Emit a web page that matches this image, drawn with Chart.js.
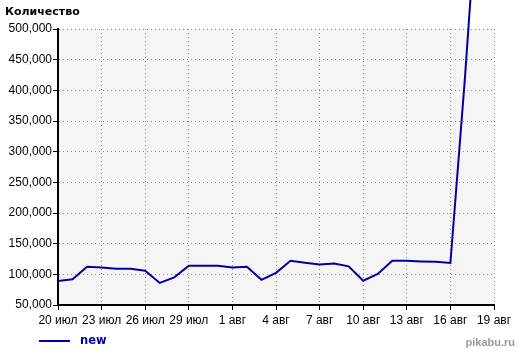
<!DOCTYPE html>
<html>
<head>
<meta charset="utf-8">
<script src="https://cdn.jsdelivr.net/npm/chart.js@4/dist/chart.umd.min.js"></script>
<style>
  body { margin: 0; background: #fff; }
  #wrap { position: relative; width: 520px; height: 353px; }
  #titulo { position: absolute; left: 5px; top: 5px; font: bold 11px "DejaVu Sans", sans-serif; line-height: 14px; color: #000; }
  #legenda { position: absolute; left: 39px; top: 333px; height: 14px; }
  #legenda .amostra { position: absolute; left: 0; top: 7px; width: 31px; height: 2px; background: #0000a0; }
  #legenda .nome { position: absolute; left: 41px; top: 0; font: bold 11.5px "DejaVu Sans", sans-serif; line-height: 14px; color: #0000a0; }
  #marca { position: absolute; right: 5px; top: 335px; font: bold 11px "Liberation Sans", sans-serif; line-height: 14px; color: #9a9a9a; }
</style>
</head>
<body>
<div id="wrap">
  <canvas id="grafico" width="520" height="353"></canvas>
  <div id="titulo">Количество</div>
  <div id="legenda"><span class="amostra"></span><span class="nome">new</span></div>
  <div id="marca">pikabu.ru</div>
</div>
<script>
// dias do eixo X (20 июл .. 19 авг)
const dias = [
  '20 июл','21 июл','22 июл','23 июл','24 июл','25 июл','26 июл','27 июл','28 июл','29 июл','30 июл','31 июл',
  '1 авг','2 авг','3 авг','4 авг','5 авг','6 авг','7 авг','8 авг','9 авг','10 авг','11 авг','12 авг',
  '13 авг','14 авг','15 авг','16 авг','17 авг','18 авг','19 авг'
];
// série "new"
const valoresNew = [
  89000, 92000, 112500, 111000, 109000, 109000, 106000, 86000, 95000, 114000, 114000, 114000,
  111000, 112500, 91000, 102500, 122000, 119000, 116000, 117500, 113000, 89500, 100500, 122000,
  122000, 121000, 120500, 118500, 420000, 760000, null
];
const yMin = 50000, yMax = 500000, yPasso = 50000;
const passoDias = 3;

const corGrade = '#8c8c8c';

// fundo cinza só na área do gráfico
const fundoArea = {
  id: 'fundoArea',
  beforeDraw(chart) {
    const { ctx, chartArea: a } = chart;
    ctx.save();
    ctx.fillStyle = '#f5f5f5';
    ctx.fillRect(a.left, a.top, a.right - a.left, a.bottom - a.top);
    ctx.restore();
  }
};

new Chart(document.getElementById('grafico').getContext('2d'), {
  type: 'line',
  data: {
    labels: dias,
    datasets: [{
      label: 'new',
      data: valoresNew,
      borderColor: '#0000a0',
      borderWidth: 2,
      pointRadius: 0,
      tension: 0,
      clip: false
    }]
  },
  options: {
    responsive: false,
    animation: false,
    layout: { padding: { top: 29, right: 26, bottom: 24, left: 0 } },
    plugins: { legend: { display: false }, title: { display: false }, tooltip: { enabled: false } },
    scales: {
      x: {
        offset: false,
        afterFit: (s) => { s.height = 24; },
        grid: {
          color: (ctx) => ctx.index % passoDias === 0 ? corGrade : 'transparent',
          tickColor: (ctx) => ctx.index % passoDias === 0 ? '#000' : 'transparent',
          tickLength: 5,
          tickBorderDash: []
        },
        border: { color: '#000', width: 2, dash: [1, 3] },
        ticks: {
          autoSkip: false,
          maxRotation: 0,
          padding: 3,
          color: '#000',
          font: { family: 'Liberation Sans', size: 12 },
          callback: (v, i) => i % passoDias === 0 ? dias[i] : ''
        }
      },
      y: {
        min: yMin,
        max: yMax,
        afterFit: (s) => { s.width = 58; },
        grid: { color: corGrade, tickColor: '#000', tickLength: 5, tickBorderDash: [] },
        border: { color: '#000', width: 2, dash: [1, 3] },
        ticks: {
          stepSize: yPasso,
          padding: 1,
          color: '#000',
          font: { family: 'Liberation Sans', size: 12 },
          callback: (v) => v.toLocaleString('en-US')
        }
      }
    }
  },
  plugins: [fundoArea]
});
</script>
</body>
</html>
